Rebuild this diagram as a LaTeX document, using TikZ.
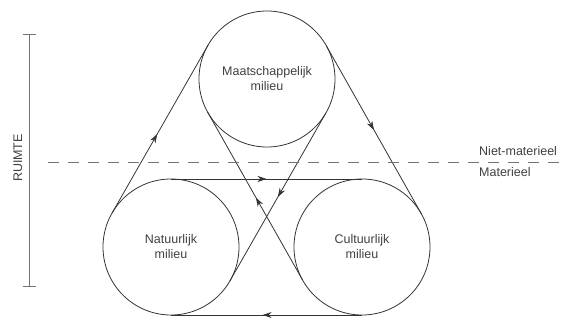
\documentclass[tikz,border=0pt]{standalone}
\usepackage{fontspec}
\setmainfont{Liberation Sans}
\usetikzlibrary{arrows.meta,decorations.markings}
\tikzset{
  milieu/.style={draw=black!80, line width=0.8pt, circle, minimum size=136pt, inner sep=0pt, outer sep=0pt, align=center, text=black!75, font=\fontsize{12.5}{15}\selectfont},
  belt/.style={draw=black!80, line width=0.8pt},
  flow/.style={belt, postaction={decorate}, decoration={markings, mark=at position #1 with {\arrow{Stealth[length=9pt,width=6pt]}}}},
  lab/.style={text=black!75, font=\fontsize{12.5}{15}\selectfont, inner sep=0pt},
  guide/.style={draw=black!55, line width=0.9pt}
}
\begin{document}
\begin{tikzpicture}[x=1pt,y=1pt]
\useasboundingbox (0,0) rectangle (562,320);
% circles
\node[milieu] (T) at (267,241) {Maatschappelijk\\milieu};
\node[milieu] (L) at (171,73) {Natuurlijk\\milieu};
\node[milieu] (R) at (362,73) {Cultuurlijk\\milieu};
% belts
\draw[flow=0.47] (L.150.26) -- (T.150.26);
\draw[flow=0.5] (T.29.5) -- (R.29.5);
\draw[flow=0.52] (R.south) -- (L.south);
\draw[flow=0.5] (L.north) -- (R.north);
\draw[flow=0.49] (R.209.5) -- (T.209.5);
\draw[flow=0.5] (T.330.26) -- (L.330.26);
% dashed separator
\coordinate (dl) at (48,158);
\coordinate (dr) at (562,158);
\draw[guide, dash pattern=on 11pt off 9pt] (dl) -- (dr);
\node[lab, anchor=base west] (niet) at (479,164) {Niet-materieel};
\node[lab, anchor=base west] (mat) at (479,143) {Materieel};
% ruimte bar
\coordinate (rtop) at (29,286);
\coordinate (rbot) at (29,34);
\draw[guide] (rtop) -- (rbot);
\draw[guide] ([xshift=-6pt]rtop) -- ([xshift=7pt]rtop);
\draw[guide] ([xshift=-6pt]rbot) -- ([xshift=7pt]rbot);
\node[lab, rotate=90] (ruimte) at (18,162) {RUIMTE};
\end{tikzpicture}
\end{document}
